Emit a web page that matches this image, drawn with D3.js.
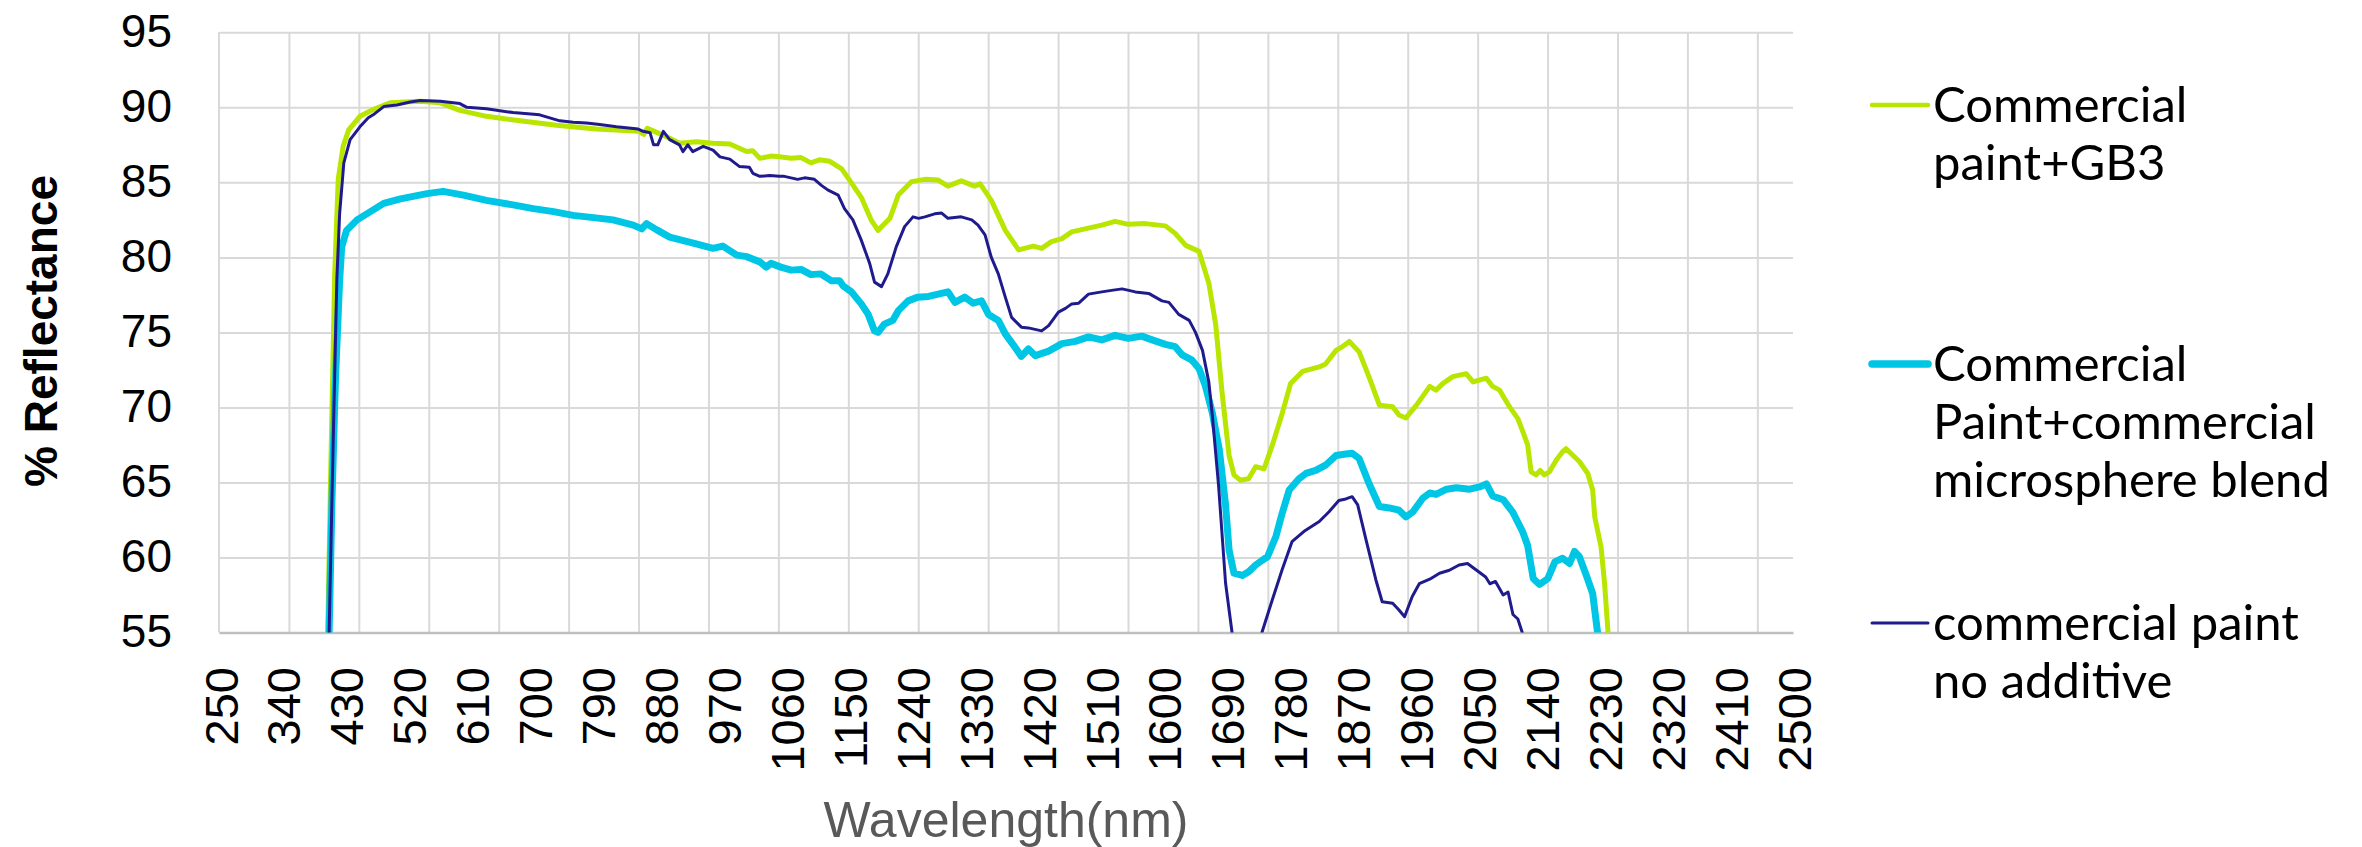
<!DOCTYPE html>
<html>
<head>
<meta charset="utf-8">
<script src="https://cdn.jsdelivr.net/npm/d3@7"></script>
<style>
body { margin: 0; background: #fff; }
text { font-family: "Liberation Sans", Arial, sans-serif; }
</style>
</head>
<body>
<script>
var width = 2362, height = 847;
var plotLeft = 219, plotRight = 1793, plotTop = 32.3, plotBottom = 632.5;

// series (nm, % reflectance)
var seriesNames = ["Commercial paint+GB3", "Commercial Paint+commercial microsphere blend", "commercial paint no additive"];

var gb3Nm = [395, 405, 409, 412, 415, 420, 427, 435, 451, 470, 494, 537, 566, 594, 632, 680, 732, 789, 850, 857, 862, 872, 889, 908, 932, 956, 980, 1004, 1013, 1023, 1039, 1051, 1068, 1082, 1096, 1108, 1123, 1140, 1149, 1168, 1182, 1192, 1209, 1221, 1240, 1259, 1278, 1292, 1311, 1330, 1338, 1354, 1374, 1393, 1414, 1426, 1440, 1455, 1469, 1488, 1512, 1531, 1550, 1574, 1603, 1617, 1632, 1651, 1665, 1675, 1684, 1694, 1701, 1710, 1722, 1732, 1744, 1756, 1770, 1782, 1799, 1823, 1832, 1847, 1856, 1866, 1880, 1894, 1909, 1928, 1937, 1947, 1962, 1981, 1990, 2000, 2014, 2033, 2043, 2062, 2071, 2081, 2095, 2107, 2114, 2121, 2126, 2133, 2139, 2145, 2152, 2162, 2171, 2176, 2186, 2195, 2207, 2214, 2217, 2226, 2231, 2236, 2245];
var gb3Val = [30, 55, 65, 72, 79, 85.2, 87.4, 88.5, 89.4, 89.85, 90.3, 90.4, 90.3, 89.8, 89.4, 89.1, 88.8, 88.55, 88.4, 88.2, 88.6, 88.4, 88.05, 87.6, 87.7, 87.6, 87.55, 87.05, 87.1, 86.6, 86.75, 86.7, 86.6, 86.65, 86.3, 86.5, 86.4, 85.9, 85.3, 84.0, 82.5, 81.8, 82.6, 84.15, 85.05, 85.2, 85.15, 84.75, 85.1, 84.75, 84.9, 83.8, 81.8, 80.5, 80.75, 80.6, 81.05, 81.25, 81.7, 81.9, 82.15, 82.4, 82.2, 82.25, 82.1, 81.6, 80.8, 80.4, 78.3, 75.5, 71.0, 66.8, 65.5, 65.15, 65.25, 66.05, 65.9, 67.5, 69.6, 71.6, 72.4, 72.7, 72.9, 73.8, 74.05, 74.4, 73.7, 72.05, 70.15, 70.05, 69.5, 69.3, 70.15, 71.4, 71.15, 71.6, 72.05, 72.25, 71.7, 71.95, 71.4, 71.15, 70.05, 69.25, 68.4, 67.5, 65.7, 65.5, 65.8, 65.5, 65.7, 66.5, 67.05, 67.25, 66.8, 66.4, 65.6, 64.5, 62.7, 60.7, 58.3, 55.0, 45];

var blendNm = [400, 407, 411, 416, 422, 425, 432, 447, 466, 485, 509, 547, 570, 599, 632, 670, 699, 728, 756, 785, 813, 842, 854, 861, 875, 894, 932, 956, 970, 990, 1004, 1023, 1032, 1039, 1053, 1068, 1082, 1096, 1110, 1125, 1137, 1142, 1154, 1168, 1178, 1187, 1192, 1201, 1213, 1221, 1235, 1249, 1264, 1278, 1292, 1302, 1316, 1328, 1340, 1350, 1364, 1374, 1388, 1397, 1407, 1417, 1436, 1455, 1474, 1493, 1512, 1531, 1550, 1569, 1584, 1603, 1617, 1627, 1641, 1651, 1660, 1670, 1680, 1689, 1694, 1701, 1713, 1722, 1732, 1741, 1749, 1761, 1770, 1780, 1794, 1804, 1818, 1832, 1847, 1861, 1870, 1880, 1894, 1909, 1923, 1937, 1947, 1957, 1971, 1981, 1990, 2005, 2019, 2038, 2052, 2062, 2071, 2086, 2100, 2114, 2121, 2129, 2138, 2150, 2160, 2171, 2181, 2188, 2195, 2205, 2214, 2221, 2230];
var blendVal = [35, 55, 63.7, 71.8, 78.45, 80.7, 81.8, 82.5, 83.05, 83.6, 83.9, 84.25, 84.4, 84.15, 83.8, 83.5, 83.25, 83.05, 82.8, 82.65, 82.5, 82.15, 81.9, 82.25, 81.85, 81.35, 80.9, 80.6, 80.75, 80.15, 80.05, 79.7, 79.35, 79.6, 79.35, 79.15, 79.2, 78.85, 78.9, 78.45, 78.45, 78.1, 77.7, 76.9, 76.2, 75.1, 75.0, 75.55, 75.8, 76.45, 77.1, 77.35, 77.4, 77.55, 77.7, 77.0, 77.35, 76.95, 77.1, 76.2, 75.8, 74.9, 74.0, 73.4, 73.9, 73.45, 73.75, 74.25, 74.4, 74.7, 74.5, 74.8, 74.6, 74.75, 74.5, 74.2, 74.05, 73.5, 73.15, 72.6, 71.45, 69.65, 67.2, 63.5, 60.5, 58.95, 58.8, 59.05, 59.5, 59.8, 60.05, 61.4, 62.95, 64.5, 65.25, 65.6, 65.8, 66.15, 66.8, 66.9, 66.95, 66.6, 64.95, 63.4, 63.3, 63.15, 62.7, 63.05, 63.95, 64.3, 64.2, 64.55, 64.65, 64.55, 64.7, 64.9, 64.1, 63.85, 63.0, 61.7, 60.8, 58.6, 58.2, 58.6, 59.7, 59.95, 59.6, 60.4, 60.05, 58.8, 57.6, 55.0, 45];

var plainNm = [400, 407, 412, 418, 422, 428, 437, 451, 463, 470, 485, 504, 523, 537, 566, 594, 604, 632, 670, 708, 737, 756, 775, 794, 818, 849, 856, 866, 871, 877, 885, 894, 908, 913, 920, 927, 942, 956, 966, 980, 994, 1008, 1013, 1023, 1037, 1051, 1058, 1077, 1087, 1101, 1111, 1120, 1135, 1144, 1156, 1168, 1180, 1187, 1197, 1206, 1218, 1230, 1242, 1250, 1259, 1273, 1283, 1292, 1311, 1326, 1335, 1345, 1354, 1364, 1374, 1383, 1397, 1407, 1426, 1436, 1450, 1460, 1469, 1479, 1493, 1512, 1526, 1541, 1560, 1579, 1598, 1608, 1622, 1637, 1646, 1656, 1665, 1670, 1679, 1689, 1698, 1705, 1720, 1735, 1741, 1756, 1770, 1784, 1803, 1823, 1837, 1851, 1861, 1870, 1878, 1890, 1904, 1913, 1928, 1937, 1945, 1956, 1966, 1981, 1995, 2009, 2023, 2035, 2048, 2061, 2067, 2075, 2086, 2093, 2100, 2107, 2114, 2125];
var plainVal = [35, 55, 66, 78.5, 82.9, 86.3, 87.85, 88.7, 89.3, 89.5, 90.05, 90.15, 90.35, 90.45, 90.4, 90.25, 90.0, 89.9, 89.65, 89.5, 89.1, 89.0, 88.95, 88.85, 88.7, 88.55, 88.4, 88.3, 87.5, 87.5, 88.4, 87.85, 87.5, 87.05, 87.5, 87.05, 87.4, 87.15, 86.7, 86.55, 86.05, 86.0, 85.6, 85.4, 85.45, 85.4, 85.4, 85.2, 85.3, 85.2, 84.8, 84.5, 84.15, 83.25, 82.5, 81.15, 79.6, 78.35, 78.05, 78.9, 80.7, 82.05, 82.7, 82.6, 82.7, 82.9, 82.95, 82.6, 82.7, 82.5, 82.15, 81.5, 80.0, 78.9, 77.35, 76.0, 75.35, 75.3, 75.1, 75.45, 76.35, 76.6, 76.9, 76.95, 77.55, 77.7, 77.8, 77.9, 77.7, 77.6, 77.1, 77.0, 76.2, 75.8, 75.0, 73.8, 71.7, 69.5, 64.8, 58.3, 55.1, 52, 50, 52.5, 55.0, 57.2, 59.2, 61.05, 61.8, 62.4, 63.05, 63.8, 63.9, 64.05, 63.5, 61.15, 58.5, 57.05, 56.95, 56.5, 56.05, 57.4, 58.25, 58.55, 58.95, 59.15, 59.5, 59.6, 59.15, 58.7, 58.25, 58.4, 57.5, 57.7, 56.2, 55.9, 54.9, 48];

var tickLabels = d3.range(250, 2501, 90);
var gridNm = d3.range(350, 2451, 100);
var yTicks = d3.range(55, 96, 5);

var colors = ["#b8e600", "#00c6e6", "#201b8c"];
var widths = [5, 7, 3];

var x = d3.scaleLinear().domain([250, 2501]).range([plotLeft, plotRight]);
var y = d3.scaleLinear().domain([55, 95]).range([plotBottom, plotTop]);

var svg = d3.select("body").append("svg")
    .attr("width", width)
    .attr("height", height);

svg.append("clipPath").attr("id", "plot")
  .append("rect")
    .attr("x", plotLeft).attr("y", plotTop)
    .attr("width", plotRight - plotLeft).attr("height", plotBottom - plotTop);

// grid
svg.append("g")
  .attr("transform", "translate(0," + plotBottom + ")")
  .call(d3.axisBottom(x).tickValues(gridNm).tickSize(-(plotBottom - plotTop)).tickFormat(""))
  .call(function(g) {
    g.select(".domain").remove();
    g.selectAll("line").attr("stroke", "#d9d9d9").attr("stroke-width", 2);
  });

svg.append("g")
  .attr("transform", "translate(" + plotLeft + ",0)")
  .call(d3.axisLeft(y).tickValues(yTicks.slice(1)).tickSize(-(plotRight - plotLeft)).tickFormat(""))
  .call(function(g) {
    g.select(".domain").remove();
    g.selectAll("line").attr("stroke", "#d9d9d9").attr("stroke-width", 2);
  });

svg.append("line")
    .attr("x1", plotLeft).attr("x2", plotLeft)
    .attr("y1", plotTop).attr("y2", plotBottom)
    .attr("stroke", "#d9d9d9").attr("stroke-width", 2);

// x axis
var xAxis = svg.append("g")
  .attr("transform", "translate(0," + plotBottom + ")")
  .call(d3.axisBottom(x).tickValues(tickLabels).tickFormat(d3.format("d")).tickSize(0).tickPadding(0));
xAxis.select(".domain").attr("stroke", "#bfbfbf").attr("stroke-width", 2.5);
xAxis.selectAll("text")
    .attr("transform", "rotate(-90)")
    .attr("text-anchor", "end")
    .attr("x", -34.5)
    .attr("y", 18)
    .attr("dy", null)
    .attr("fill", "#000")
    .style("font-size", "47px");

// y axis
var yAxis = svg.append("g")
  .attr("transform", "translate(" + plotLeft + ",0)")
  .call(d3.axisLeft(y).tickValues(yTicks).tickSize(0).tickPadding(47));
yAxis.select(".domain").remove();
yAxis.selectAll("text")
    .attr("dy", null)
    .attr("y", 14)
    .attr("fill", "#000")
    .style("font-size", "46px");

svg.append("text")
    .attr("transform", "translate(57,331) rotate(-90)")
    .attr("text-anchor", "middle")
    .style("font-size", "46px")
    .style("font-weight", "bold")
    .text("% Reflectance");

svg.append("text")
    .attr("x", (plotLeft + plotRight) / 2)
    .attr("y", 837)
    .attr("text-anchor", "middle")
    .attr("fill", "#595959")
    .style("font-size", "50px")
    .text("Wavelength(nm)");

// lines
var series = [
  d3.zip(gb3Nm, gb3Val),
  d3.zip(blendNm, blendVal),
  d3.zip(plainNm, plainVal)
];

var line = d3.line()
    .x(function(d) { return x(d[0] + 0.5); })
    .y(function(d) { return y(d[1]); });

svg.append("g").attr("clip-path", "url(#plot)")
  .selectAll("path")
  .data(series)
  .enter().append("path")
    .attr("d", line)
    .attr("fill", "none")
    .attr("stroke", function(d, i) { return colors[i]; })
    .attr("stroke-width", function(d, i) { return widths[i]; })
    .attr("stroke-linejoin", "round");

// legend
var legendLines = [["Commercial", "paint+GB3"], ["Commercial", "Paint+commercial", "microsphere blend"], ["commercial paint", "no additive"]];
var legendY = [105, 364, 623];
var legendW = [4.5, 7.5, 3];

var lg = svg.selectAll(".legend")
  .data(legendLines)
  .enter().append("g")
    .attr("class", "legend")
    .attr("transform", function(d, i) { return "translate(0," + legendY[i] + ")"; });

lg.append("line")
    .attr("x1", 1872).attr("x2", 1928)
    .attr("stroke", function(d, i) { return colors[i]; })
    .attr("stroke-width", function(d, i) { return legendW[i]; })
    .attr("stroke-linecap", "round");

lg.append("text")
    .style("font-family", "Lato, sans-serif")
    .style("font-size", "49px")
  .selectAll("tspan")
  .data(function(d) { return d; })
  .enter().append("tspan")
    .attr("x", 1933)
    .attr("y", function(d, j) { return 17 + j * 58; })
    .text(function(d) { return d; });
</script>
</body>
</html>
